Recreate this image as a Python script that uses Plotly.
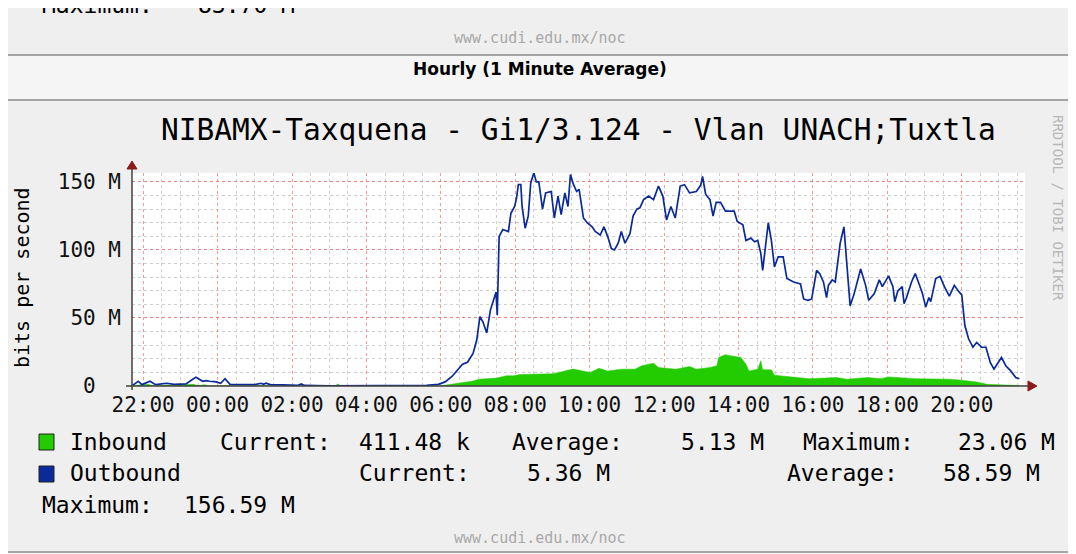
import plotly.graph_objects as go
import pandas as pd

# outbound traffic (Mbit/s)
out_times = ["21:43", "21:52", "21:58", "22:11", "22:20", "22:38", "22:50", "23:09", "23:20", "23:25",
             "23:36", "23:42", "23:47", "23:58", "00:05", "00:12", "00:20", "00:40", "01:00", "01:10",
             "01:14", "01:18", "01:25", "01:45", "02:00", "02:10", "02:15", "02:20", "03:00", "04:00",
             "05:00", "05:37", "05:56", "06:07", "06:18", "06:26", "06:35", "06:43", "06:52", "06:58",
             "07:03", "07:08", "07:14", "07:20", "07:25", "07:29", "07:31", "07:34", "07:40", "07:49",
             "07:53", "07:59", "08:02", "08:05", "08:09", "08:11", "08:16", "08:21", "08:25", "08:30",
             "08:34", "08:38", "08:44", "08:49", "08:58", "09:03", "09:09", "09:14", "09:20", "09:25",
             "09:29", "09:34", "09:39", "09:43", "09:50", "09:56", "10:04", "10:09", "10:17", "10:23",
             "10:29", "10:35", "10:40", "10:46", "10:51", "10:57", "11:05", "11:10", "11:16", "11:21",
             "11:27", "11:35", "11:43", "11:51", "11:58", "12:04", "12:11", "12:18", "12:26", "12:33",
             "12:41", "12:52", "12:59", "13:02", "13:07", "13:14", "13:19", "13:24", "13:31", "13:39",
             "13:53", "13:58", "14:07", "14:12", "14:20", "14:26", "14:31", "14:36", "14:39", "14:42",
             "14:48", "14:53", "14:58", "15:04", "15:12", "15:18", "15:29", "15:40", "15:45", "15:52",
             "15:58", "16:06", "16:11", "16:17", "16:22", "16:25", "16:31", "16:36", "16:44", "16:50",
             "16:55", "17:00", "17:06", "17:11", "17:17", "17:25", "17:30", "17:39", "17:47", "17:52",
             "18:02", "18:09", "18:12", "18:17", "18:24", "18:27", "18:31", "18:39", "18:45", "18:50",
             "18:56", "19:02", "19:07", "19:10", "19:18", "19:25", "19:32", "19:40", "19:48", "19:56",
             "20:00", "20:05", "20:11", "20:18", "20:24", "20:32", "20:39", "20:46", "20:52", "20:57",
             "21:04", "21:11", "21:19", "21:27", "21:33"]
out_mbps = [0.5, 3.5, 1.0, 3.5, 1.0, 2.0, 1.2, 1.5, 5.0, 6.5,
            3.5, 4.0, 3.5, 3.0, 2.0, 5.4, 1.2, 1.0, 1.0, 2.0,
            1.2, 2.0, 1.0, 0.8, 0.4, 0.5, 1.5, 0.4, 0.2, 0.2,
            0.2, 0.5, 1.2, 3.0, 7.0, 11.0, 16.0, 17.5, 24.0, 34.0,
            51.0, 47.0, 39.0, 56.0, 64.0, 69.0, 52.0, 110.0, 115.0, 113.5,
            127.0, 132.0, 138.0, 148.0, 148.0, 132.0, 116.0, 125.0, 149.5, 156.59,
            150.0, 150.0, 130.0, 142.0, 143.0, 123.5, 139.6, 126.0, 142.0, 132.0,
            155.5, 148.0, 143.0, 144.5, 123.5, 120.0, 117.0, 113.6, 111.0, 117.0,
            110.0, 101.0, 100.0, 105.0, 113.6, 105.0, 112.0, 125.0, 130.0, 131.0,
            137.0, 139.6, 137.0, 147.0, 139.6, 122.0, 132.0, 123.5, 147.0, 148.0,
            142.0, 143.0, 147.5, 154.0, 141.0, 137.0, 125.0, 135.0, 135.0, 128.5,
            128.5, 121.0, 118.5, 107.0, 108.7, 106.0, 107.0, 97.5, 85.0, 97.5,
            120.0, 107.0, 87.6, 95.0, 95.0, 79.0, 76.5, 75.0, 64.0, 63.0,
            64.0, 85.0, 82.6, 76.5, 65.0, 74.0, 78.0, 76.5, 105.0, 117.0,
            91.0, 59.0, 67.0, 76.5, 86.0, 74.0, 63.0, 68.0, 78.0, 73.0,
            81.0, 73.0, 62.0, 70.0, 73.0, 60.6, 65.0, 76.5, 82.6, 76.5,
            69.0, 58.0, 65.0, 62.0, 79.0, 80.6, 73.0, 66.0, 74.0, 69.0,
            67.0, 44.5, 34.7, 28.5, 32.0, 28.5, 28.5, 17.3, 12.4, 16.0,
            21.0, 14.9, 11.1, 6.2, 5.36]

# inbound traffic (Mbit/s)
in_times = ["21:43", "22:08", "22:15", "23:20", "23:30", "23:39", "23:45", "03:10", "03:14", "03:18",
            "06:00", "06:10", "06:25", "06:40", "06:50", "07:02", "07:19", "07:30", "07:46", "07:57",
            "08:08", "08:35", "09:01", "09:15", "09:33", "09:55", "10:01", "10:15", "10:29", "10:51",
            "11:13", "11:24", "11:43", "11:51", "12:19", "12:41", "12:52", "13:14", "13:25", "13:28",
            "13:39", "13:47", "14:04", "14:12", "14:17", "14:31", "14:36", "14:39", "14:53", "14:58",
            "15:26", "15:54", "16:38", "16:55", "17:28", "17:50", "18:01", "18:24", "18:45", "19:40",
            "19:56", "20:24", "20:41", "21:33"]
in_mbps = [0.3, 1.2, 0.3, 1.2, 0.3, 1.0, 0.2, 0.2, 1.5, 0.2,
           0.2, 0.8, 1.5, 2.8, 3.5, 5.0, 5.3, 5.8, 7.5, 7.5,
           8.5, 9.0, 9.0, 10.5, 12.5, 10.5, 10.0, 13.0, 11.0, 12.4,
           12.4, 14.9, 16.8, 13.6, 12.4, 14.4, 12.4, 13.6, 14.9, 21.0,
           23.06, 22.3, 21.0, 16.0, 11.0, 12.4, 18.6, 12.0, 11.9, 7.9,
           6.9, 5.4, 6.2, 5.0, 6.2, 5.4, 6.7, 6.2, 5.4, 5.0,
           4.5, 3.0, 1.2, 0.41]

y_ticks = [0, 50e6, 100e6, 150e6]
y_ticktext = ["0\u00a0\u00a0", "50 M", "100 M", "150 M"]

title = "NIBAMX-Taxquena - Gi1/3.124 - Vlan UNACH;Tuxtla"
legend_rows = [
    # (y, [(x, anchor, text), ...])
    (442, [(68, "left", "Inbound"), (218, "left", "Current:"), (472, "right", "411.48 k"),
           (510, "left", "Average:"), (766, "right", "5.13 M"), (801, "left", "Maximum:"),
           (1057, "right", "23.06 M")]),
    (473, [(68, "left", "Outbound"), (357, "left", "Current:"), (612, "right", "5.36 M"),
           (785, "left", "Average:"), (1042, "right", "58.59 M")]),
    (505, [(40, "left", "Maximum:"), (297, "right", "156.59 M")]),
]


def to_dt(times):
    day, prev, res = 1, None, []
    for t in times:
        h = int(t[:2])
        if prev is not None and h < prev:
            day += 1
        prev = h
        res.append(pd.Timestamp(f"2024-01-0{day} {t}"))
    return res


# the page puts the figure 8px in from the top-left corner (body margin)
OFF = 8
W, H = 1076 - OFF, 554 - OFF
PL, PR, PT, PB = 132, 1025, 173, 386   # plot area in screen pixels


def px(x):
    return (x - PL) / (PR - PL)


def py(y):
    return (PB - y) / (PB - PT)


MONO = "DejaVu Sans Mono"
GREEN = "#22cc00"
BLUE = "#0a2a9a"

fig = go.Figure()
fig.add_trace(go.Scatter(x=to_dt(in_times), y=[v * 1e6 for v in in_mbps],
                         mode="lines", line=dict(color=GREEN, width=0.5),
                         fill="tozeroy", fillcolor=GREEN, name="Inbound"))
fig.add_trace(go.Scatter(x=to_dt(out_times), y=[v * 1e6 for v in out_mbps],
                         mode="lines", line=dict(color=BLUE, width=1.7), name="Outbound"))

shapes = []


def rect(x0, y0, x1, y1, fill=None, line=None, lw=0):
    shapes.append(dict(type="rect", xref="paper", yref="paper", layer="below",
                       x0=px(x0), x1=px(x1), y0=py(y0), y1=py(y1),
                       fillcolor=fill if fill else "rgba(0,0,0,0)",
                       line=dict(color=line if line else "rgba(0,0,0,0)", width=lw)))


# panels
rect(6, -10, 1073, 55, fill="#efefef", line="#a4a4a4", lw=2)
rect(333, -2, 1080, 4, fill="#9c9c9c")
rect(6, 100, 1073, 552, fill="#efefef", line="#a4a4a4", lw=2)
rect(PL, PT, PR, PB, fill="#ffffff")

# axes with arrows
AX = "#404040"
ARROW = "#8b1a1a"
shapes.append(dict(type="line", xref="paper", yref="paper", layer="above",
                   x0=px(132), x1=px(132), y0=py(390), y1=py(166), line=dict(color=AX, width=1.5)))
shapes.append(dict(type="line", xref="paper", yref="paper", layer="above",
                   x0=px(126), x1=px(1030), y0=py(386), y1=py(386), line=dict(color=AX, width=1.5)))
shapes.append(dict(type="path", xref="paper", yref="paper", layer="above",
                   path=f"M {px(127)} {py(169)} L {px(137)} {py(169)} L {px(132)} {py(161)} Z",
                   fillcolor=ARROW, line=dict(color=ARROW, width=1)))
shapes.append(dict(type="path", xref="paper", yref="paper", layer="above",
                   path=f"M {px(1028)} {py(381)} L {px(1028)} {py(391)} L {px(1037)} {py(386)} Z",
                   fillcolor=ARROW, line=dict(color=ARROW, width=1)))

# legend swatches
for y0, col in [(434, GREEN), (466, BLUE)]:
    shapes.append(dict(type="rect", xref="paper", yref="paper", layer="above",
                       x0=px(39), x1=px(54), y0=py(y0), y1=py(y0 + 16),
                       fillcolor=col, line=dict(color="#202020", width=1)))

ann = []


def text(x, y, s, size, anchor="center", color="#000000", family=MONO, angle=0, bold=False):
    ann.append(dict(x=px(x), y=py(y), xref="paper", yref="paper", text=f"<b>{s}</b>" if bold else s,
                    showarrow=False, xanchor=anchor, yanchor="middle", textangle=angle,
                    font=dict(family=family, size=size, color=color)))


text(40, 5, "Maximum:", 23, "left")
text(297, 5, "83.70 M", 23, "right")
text(540, 38, "www.cudi.edu.mx/noc", 15, color="#a8a8a8")
text(540, 69, "Hourly (1 Minute Average)", 17, family="DejaVu Sans", bold=True)
text(578, 130, title, 29.5)
text(22, 278, "bits per second", 20, angle=-90)
text(1058, 208, "RRDTOOL / TOBI OETIKER", 14, color="#b8b8b8", angle=90)
for ry, items in legend_rows:
    for x, anchor, s in items:
        text(x, ry, s, 23, anchor)
text(540, 538, "www.cudi.edu.mx/noc", 15, color="#a8a8a8")

fig.update_layout(
    width=W, height=H, autosize=False,
    margin=dict(l=PL - OFF, r=W - (PR - OFF), t=PT - OFF, b=H - (PB - OFF), pad=0),
    paper_bgcolor="#f5f5f5", plot_bgcolor="#ffffff",
    showlegend=False,
    shapes=shapes, annotations=ann,
    xaxis=dict(type="date", range=["2024-01-01 21:42", "2024-01-02 21:42"],
               tick0="2024-01-01 22:00", dtick=7200000, tickformat="%H:%M",
               showgrid=True, gridcolor="rgba(255,70,70,0.55)", griddash="dot", gridwidth=1,
               minor=dict(dtick=1800000, showgrid=True, gridcolor="#cfcfcf", griddash="dot"),
               zeroline=False, showline=False, ticks="", ticklabelstandoff=4,
               tickfont=dict(family=MONO, size=21, color="#111111")),
    yaxis=dict(range=[0, 156.59e6], tickvals=y_ticks, ticktext=y_ticktext,
               showgrid=True, gridcolor="rgba(255,70,70,0.55)", griddash="dot", gridwidth=1,
               minor=dict(dtick=10e6, showgrid=True, gridcolor="#cfcfcf", griddash="dot"),
               zeroline=False, showline=False, ticks="", ticklabelstandoff=10,
               tickfont=dict(family=MONO, size=21, color="#111111")),
)

fig.write_html("out.html")
